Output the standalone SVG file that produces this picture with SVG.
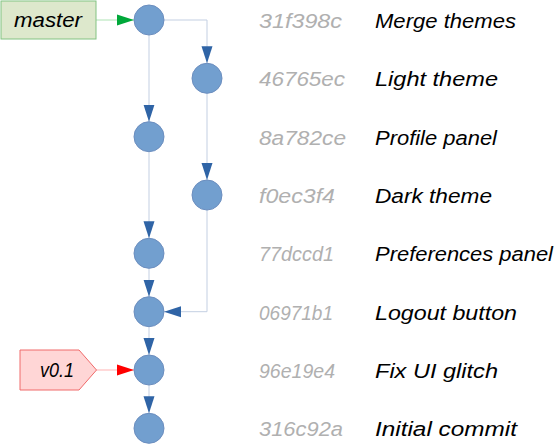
<svg xmlns="http://www.w3.org/2000/svg" width="555" height="444" viewBox="0 0 555 444">
<style>
.c{fill:#729fcf;stroke:#6c8ebf;stroke-width:1}
.h{font-family:"Liberation Sans",Arial,sans-serif;font-size:20px;fill:#b0b0b0;font-style:italic}
.m{font-family:"Liberation Sans",Arial,sans-serif;font-size:20px;fill:#000;font-style:italic}
.e{fill:none;stroke:#c3cfe2;stroke-width:1}
</style>
<defs>
<marker id="ab" markerUnits="userSpaceOnUse" markerWidth="18" markerHeight="12" refX="17" refY="6" orient="auto"><path d="M0,0.5 L17,6 L0,11.5 Z" fill="#2f64a6"/></marker>
<marker id="ag" markerUnits="userSpaceOnUse" markerWidth="18" markerHeight="12" refX="17" refY="6" orient="auto"><path d="M0,0.5 L17,6 L0,11.5 Z" fill="#00a83a"/></marker>
<marker id="ar" markerUnits="userSpaceOnUse" markerWidth="18" markerHeight="12" refX="17" refY="6" orient="auto"><path d="M0,0.5 L17,6 L0,11.5 Z" fill="#ff0000"/></marker>
</defs>
<g id="connectors">
<path d="M96,20 H134" fill="none" stroke="#aee3b4" stroke-width="1" marker-end="url(#ag)"/>
<path d="M96,370 H134" fill="none" stroke="#ffb3b3" stroke-width="1" marker-end="url(#ar)"/>
<path class="e" d="M149,35 V121.7" marker-end="url(#ab)"/>
<path class="e" d="M149,151.7 V238.3" marker-end="url(#ab)"/>
<path class="e" d="M149,268.3 V296.7" marker-end="url(#ab)"/>
<path class="e" d="M149,326.7 V355" marker-end="url(#ab)"/>
<path class="e" d="M149,385 V413.3" marker-end="url(#ab)"/>
<path class="e" d="M164,20 H207 V63.3" marker-end="url(#ab)"/>
<path class="e" d="M207,93.3 V180" marker-end="url(#ab)"/>
<path class="e" d="M207,210 V311.7 H164" marker-end="url(#ab)"/>
</g>
<g id="tag-master">
<rect x="1" y="1" width="95" height="38" fill="#dde8cc" stroke="#82c382" stroke-width="1"/>
<text class="m" x="48" y="27" text-anchor="middle" textLength="68" lengthAdjust="spacingAndGlyphs">master</text>
</g>
<g id="tag-v01">
<path d="M20,350 H79 L96.5,370 L79,390 H20 Z" fill="#ffd6d6" stroke="#f06a6a" stroke-width="1"/>
<text class="m" x="57" y="377" text-anchor="middle" textLength="34" lengthAdjust="spacingAndGlyphs">v0.1</text>
</g>
<g id="c31f398c">
<circle class="c" cx="149" cy="20" r="15"/>
<text class="h" x="259" y="28" textLength="83" lengthAdjust="spacingAndGlyphs">31f398c</text>
<text class="m" x="375" y="28" textLength="141" lengthAdjust="spacingAndGlyphs">Merge themes</text>
</g>
<g id="c46765ec">
<circle class="c" cx="207" cy="78.3" r="15"/>
<text class="h" x="259" y="86.3" textLength="86" lengthAdjust="spacingAndGlyphs">46765ec</text>
<text class="m" x="375" y="86.3" textLength="123" lengthAdjust="spacingAndGlyphs">Light theme</text>
</g>
<g id="c8a782ce">
<circle class="c" cx="149" cy="136.7" r="15"/>
<text class="h" x="259" y="144.7" textLength="87" lengthAdjust="spacingAndGlyphs">8a782ce</text>
<text class="m" x="375" y="144.7" textLength="122" lengthAdjust="spacingAndGlyphs">Profile panel</text>
</g>
<g id="cf0ec3f4">
<circle class="c" cx="207" cy="195" r="15"/>
<text class="h" x="259" y="203" textLength="76" lengthAdjust="spacingAndGlyphs">f0ec3f4</text>
<text class="m" x="375" y="203" textLength="117" lengthAdjust="spacingAndGlyphs">Dark theme</text>
</g>
<g id="c77dccd1">
<circle class="c" cx="149" cy="253.3" r="15"/>
<text class="h" x="259" y="261.3" textLength="75" lengthAdjust="spacingAndGlyphs">77dccd1</text>
<text class="m" x="375" y="261.3" textLength="178" lengthAdjust="spacingAndGlyphs">Preferences panel</text>
</g>
<g id="c06971b1">
<circle class="c" cx="149" cy="311.7" r="15"/>
<text class="h" x="259" y="319.7" textLength="74" lengthAdjust="spacingAndGlyphs">06971b1</text>
<text class="m" x="375" y="319.7" textLength="142" lengthAdjust="spacingAndGlyphs">Logout button</text>
</g>
<g id="c96e19e4">
<circle class="c" cx="149" cy="370" r="15"/>
<text class="h" x="259" y="378" textLength="76" lengthAdjust="spacingAndGlyphs">96e19e4</text>
<text class="m" x="375" y="378" textLength="123" lengthAdjust="spacingAndGlyphs">Fix UI glitch</text>
</g>
<g id="c316c92a">
<circle class="c" cx="149" cy="428.3" r="15"/>
<text class="h" x="259" y="436.3" textLength="84" lengthAdjust="spacingAndGlyphs">316c92a</text>
<text class="m" x="375" y="436.3" textLength="142" lengthAdjust="spacingAndGlyphs">Initial commit</text>
</g>
</svg>
